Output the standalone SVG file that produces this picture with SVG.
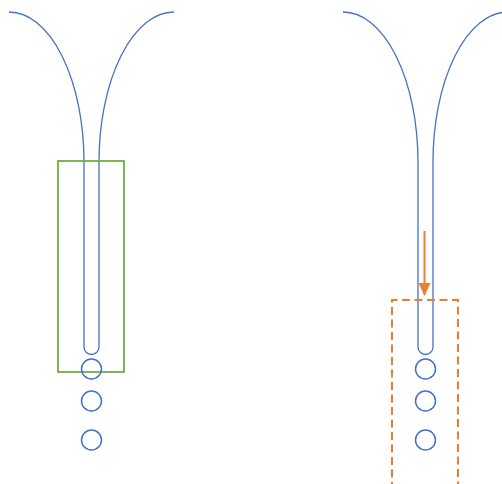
<svg xmlns="http://www.w3.org/2000/svg" width="502" height="484" viewBox="0 0 502 484">
<style>
.tube{fill:none;stroke:#4472C4;stroke-width:1.3}
.ball{fill:none;stroke:#4472C4;stroke-width:1.5}
.frame{fill:none;stroke:#70AD47;stroke-width:1.8}
.dash{fill:none;stroke:#ED7D31;stroke-width:2;stroke-dasharray:8 4.5}
.arrow{stroke:#ED7D31;stroke-width:2;fill:none}
</style>
<defs>
<marker id="ah" viewBox="0 0 13 12" refX="12" refY="6" markerWidth="6.5" markerHeight="6" markerUnits="strokeWidth" orient="auto">
<path d="M0,0 L13,6 L0,12 Z" fill="#ED7D31"/>
</marker>
</defs>
<rect width="502" height="484" fill="#fff"/>
<g id="left">
<path class="tube" d="M9,12 A75,150 0 0 1 84,162 L84,347 A7.5,7.5 0 0 0 99,347 L99,162 A75,150 0 0 1 174,12"/>
<rect class="frame" x="58" y="161" width="66" height="211"/>
<circle class="ball" cx="91.5" cy="369" r="10"/>
<circle class="ball" cx="91.5" cy="401" r="10"/>
<circle class="ball" cx="91.5" cy="440" r="10"/>
</g>
<g id="right">
<path class="tube" d="M343,12 A75,150 0 0 1 418,162 L418,347 A7.5,7.5 0 0 0 433,347 L433,162 A75,150 0 0 1 508,12"/>
<path class="dash" d="M392,490 L392,300 L458,300 L458,490"/>
<circle class="ball" cx="425.5" cy="369" r="10"/>
<circle class="ball" cx="425.5" cy="401" r="10"/>
<circle class="ball" cx="425.5" cy="440" r="10"/>
</g>
<g id="connectors">
<line class="arrow" x1="424.5" y1="231" x2="424.5" y2="295" marker-end="url(#ah)"/>
</g>
</svg>
